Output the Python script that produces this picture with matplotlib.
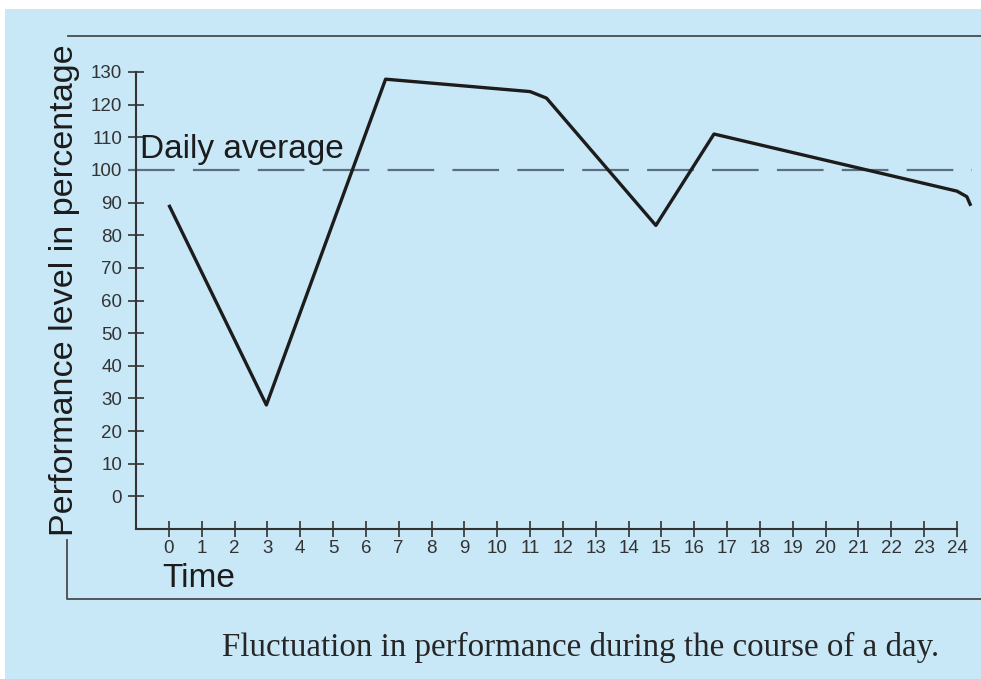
import matplotlib
matplotlib.use("Agg")
import matplotlib.pyplot as plt
from matplotlib.lines import Line2D
from matplotlib.patches import Rectangle

# ---- data ----
hours = [0, 2.97, 6.6, 11.0, 11.5, 14.83, 16.6, 24.0, 24.3, 24.42]
performance = [89.3, 28.0, 127.8, 124.0, 122.0, 83.0, 111.0, 93.5, 91.8, 89.0]
x_ticks = list(range(0, 25))
y_ticks = list(range(0, 131, 10))
y_tick_labels = [str(v) for v in y_ticks]
daily_average = 100

BG = "#c8e8f8"
INK = "#1c1c1c"
GREY = "#333333"

W, H = 981, 679
fig = plt.figure(figsize=(W / 100, H / 100), dpi=100)
fig.patch.set_facecolor("white")
fig.patches.append(Rectangle((5 / W, 0), 1 - 5 / W, 1 - 9 / H, transform=fig.transFigure,
                             facecolor=BG, edgecolor="none", zorder=-10))

ax = fig.add_axes([136 / W, 1 - 529 / H, (957 - 136) / W, (529 - 72) / H])
ax.set_facecolor("none")
ax.set_xlim(-1, 24)
ax.set_ylim(-10, 130)

for s in ("top", "right"):
    ax.spines[s].set_visible(False)
for s in ("left", "bottom"):
    ax.spines[s].set_color(GREY)
    ax.spines[s].set_linewidth(1.5)

font = "Liberation Sans"
ax.set_xticks(x_ticks)
ax.set_xticklabels([str(v) for v in x_ticks], fontfamily=font, fontsize=13.5, color=GREY)
ax.set_yticks(y_ticks)
ax.set_yticklabels(y_tick_labels, fontfamily=font, fontsize=13.5, color=GREY)
ax.tick_params(axis="both", direction="inout", length=12, width=1.2, color=GREY)
ax.tick_params(axis="x", pad=2)
ax.tick_params(axis="y", pad=4)

# daily average dashed line
dl, = ax.plot([-1.25, 24.47], [daily_average, daily_average], color="#5c6f80", lw=1.6,
              clip_on=False, zorder=2)
dl.set_dashes((21.0, 8.2))

# performance curve
ax.plot(hours, performance, color=INK, lw=2.4, solid_joinstyle="round",
        solid_capstyle="butt", clip_on=False, zorder=3)

# texts
fig.text(65 / W, 1 - 290 / H, "Performance level in percentage", rotation=90,
         ha="center", va="center", fontfamily=font, fontsize=24.6, color=INK)
fig.text(140 / W, 1 - 158 / H, "Daily average", ha="left", va="baseline",
         fontfamily=font, fontsize=24, color=INK)
fig.text(162 / W, 1 - 587 / H, "Time", ha="left", va="baseline",
         fontfamily=font, fontsize=24, color=INK)
fig.text(222 / W, 1 - 656 / H, "Fluctuation in performance during the course of a day.",
         ha="left", va="baseline", fontfamily="Liberation Serif", fontsize=23.8, color="#262626")

# frame lines
fig.add_artist(Line2D([68 / W, 1], [1 - 36 / H, 1 - 36 / H], transform=fig.transFigure,
                      color="#4a4a4a", lw=1.3))
fig.add_artist(Line2D([67 / W, 67 / W, 1], [1 - 540 / H, 1 - 599 / H, 1 - 599 / H],
                      transform=fig.transFigure, color="#4a4a4a", lw=1.3))

fig.savefig("out.png", dpi=100, facecolor=fig.get_facecolor())
